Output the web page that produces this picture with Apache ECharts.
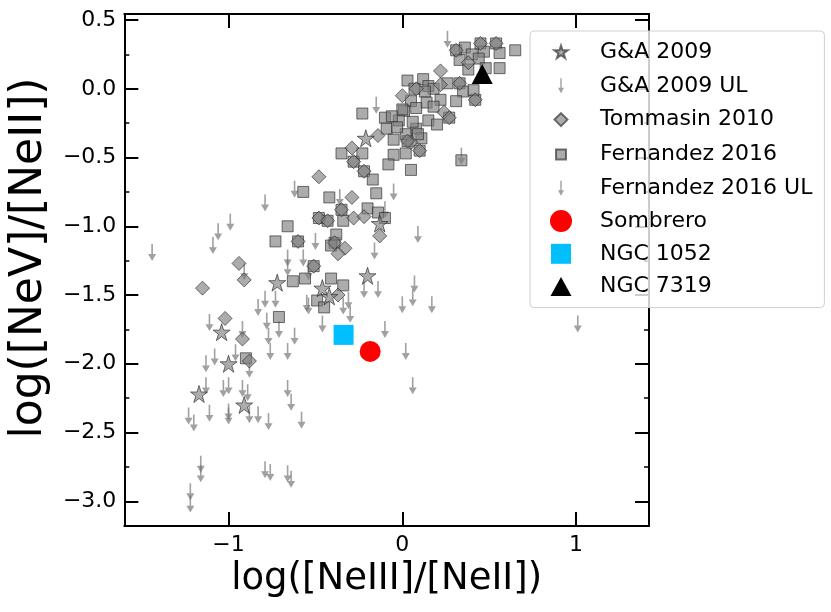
<!DOCTYPE html>
<html>
<head>
<meta charset="utf-8">
<script src="https://cdn.jsdelivr.net/npm/echarts@6/dist/echarts.min.js"></script>
<style>
  html, body { margin: 0; padding: 0; background: #fff; }
  #chart { width: 831px; height: 612px; }
</style>
</head>
<body>
<div id="chart"></div>
<script>
// x = log([NeIII]/[NeII]), y = log([NeV]/[NeII])
const gaStars = [
  [-0.21, -0.36], [-0.13, -0.98], [-0.20, -1.36], [-0.72, -1.41], [-0.46, -1.45],
  [-0.42, -1.51], [-1.04, -1.77], [-1.00, -2.00], [-1.17, -2.22], [-0.91, -2.30]
];
const gaUL = [
  [-1.44, -1.19], [-0.91, -1.33], [-1.11, -1.70], [-0.92, -1.75], [-1.08, -1.95],
  [-1.13, -2.00], [-1.00, -2.35], [-1.11, -2.36], [-0.88, -2.37], [-1.16, -2.80],
  [-1.22, -2.93], [-0.79, -2.77], [-0.66, -2.80], [-0.73, -1.53], [-0.66, -1.23],
  [-0.54, -1.33], [-0.31, -1.54], [0.06, -1.52], [-0.50, -1.11], [-0.36, -0.79],
  [-0.96, -1.92]
];
// Tommasin diamonds (the octagon-looking marks are diamond + square on the same galaxy)
const tommasin = [
  [0.22, 0.13], [0.38, 0.19], [0.08, 0.00], [0.22, 0.03], [0.00, -0.05],
  [0.24, -0.17], [0.05, -0.39], [-0.14, -0.34], [-0.29, -0.43], [-0.48, -0.64],
  [-0.29, -0.79], [-0.28, -0.94], [-0.22, -0.93], [-0.13, -1.07], [-0.33, -1.16],
  [-0.37, -1.20], [-0.94, -1.27], [-0.91, -1.39], [-1.15, -1.45], [-1.02, -1.67],
  [-0.37, -1.50], [-0.92, -1.82], [-0.88, -1.98],
  [0.31, 0.28], [0.45, 0.33], [0.54, 0.33], [0.33, 0.04], [0.42, -0.08],
  [0.27, -0.21], [0.03, -0.38], [0.10, -0.45], [-0.28, -0.53], [-0.22, -0.60],
  [-0.48, -0.94], [-0.43, -0.96], [-0.35, -0.88], [-0.60, -1.11], [-0.39, -1.12],
  [-0.51, -1.29]
];
const fernandez = [
  [0.31, 0.28], [0.45, 0.33], [0.54, 0.33], [0.33, 0.04], [0.42, -0.08],
  [0.27, -0.21], [0.03, -0.38], [0.10, -0.45], [-0.28, -0.53], [-0.22, -0.60],
  [-0.48, -0.94], [-0.43, -0.96], [-0.35, -0.88], [-0.60, -1.11], [-0.39, -1.12],
  [-0.51, -1.29],
  [0.36, 0.30], [0.47, 0.27], [0.56, 0.26], [0.65, 0.28], [0.40, 0.25],
  [0.33, 0.21], [0.44, 0.22], [0.38, 0.14], [0.48, 0.15], [0.56, 0.15],
  [0.03, 0.06], [0.12, 0.07], [0.07, 0.00], [0.15, 0.02], [0.18, 0.00],
  [0.26, 0.04], [0.35, -0.02], [0.41, -0.01], [0.31, -0.09], [0.22, -0.08],
  [0.13, -0.02], [0.14, -0.10], [0.05, -0.09], [0.01, -0.16], [0.08, -0.14],
  [0.18, -0.13], [0.15, -0.23], [0.20, -0.26], [0.08, -0.29], [0.02, -0.33],
  [0.06, -0.24], [-0.02, -0.23], [0.11, -0.36], [0.02, -0.47], [0.34, -0.52],
  [0.05, -0.59], [-0.23, -0.18], [-0.10, -0.21], [0.00, -0.15], [-0.06, -0.20],
  [-0.09, -0.29], [-0.03, -0.28], [-0.05, -0.37], [0.09, -0.33], [-0.05, -0.48],
  [-0.08, -0.55], [-0.35, -0.47], [-0.23, -0.47], [-0.17, -0.66], [-0.15, -0.76],
  [-0.57, -0.75], [-0.42, -0.79], [-0.20, -0.87], [-0.34, -0.96], [-0.14, -0.90],
  [-0.10, -0.94], [-0.66, -1.00], [-0.73, -1.11], [-0.38, -1.06], [-0.41, -1.14],
  [-0.63, -1.40], [-0.56, -1.38], [-0.41, -1.38], [-0.34, -1.43], [-0.49, -1.54],
  [-0.45, -1.59], [-0.71, -1.66], [-0.90, -1.96]
];
const fernandezUL = [
  [0.26, 0.36], [-0.15, -0.12], [-0.62, -0.73], [-0.05, -0.75], [-0.10, -0.88],
  [0.09, -1.06], [-0.79, -0.83], [-0.99, -0.97], [-1.06, -1.04], [-1.09, -1.14],
  [-0.57, -1.23], [-0.16, -1.18], [-0.66, -1.30], [-0.22, -1.46], [-0.14, -1.46],
  [0.07, -1.42], [-0.79, -1.53], [-0.55, -1.56], [0.00, -1.57], [0.17, -1.57],
  [-0.83, -1.59], [-0.54, -1.58], [-0.34, -1.58], [-0.30, -1.64], [-0.78, -1.69],
  [-0.46, -1.71], [-0.71, -1.75], [-0.10, -1.75], [-0.77, -1.80], [-0.62, -1.80],
  [-0.76, -1.91], [-0.66, -1.91], [0.02, -1.91], [1.01, -1.71], [-0.88, -2.04],
  [-1.13, -2.16], [-1.03, -2.18], [-1.00, -2.16], [-0.92, -2.18], [-0.89, -2.21],
  [-0.66, -2.18], [-0.64, -2.28], [0.06, -2.16], [-1.00, -2.38], [-0.83, -2.37],
  [-1.23, -2.38], [-1.20, -2.43], [-0.77, -2.42], [-0.58, -2.41], [-1.16, -2.73],
  [-0.76, -2.79], [-0.64, -2.84], [-1.22, -3.02], [0.34, -0.49]
];
const sombrero = [[-0.185, -1.91]];
const ngc1052 = [[-0.338, -1.79]];
const ngc7319 = [[0.46, 0.107]];

const xTicks = [-1, 0, 1];
const yTicks = [-3, -2.5, -2, -1.5, -1, -0.5, 0, 0.5];
const yMinorTicks = [-2.75, -2.25, -1.75, -1.25, -0.75, -0.25, 0.25];

function starPath(cx, cy, R) {
  let d = '';
  for (let i = 0; i < 10; i++) {
    const a = -Math.PI / 2 + i * Math.PI / 5;
    const r = i % 2 ? R * 0.382 : R;
    d += (i ? 'L' : 'M') + (cx + r * Math.cos(a)).toFixed(2) + ',' + (cy + r * Math.sin(a)).toFixed(2) + ' ';
  }
  return d + 'Z';
}
const STAR = 'path://' + starPath(10, 10, 10);
const ARROW = 'path://M4,0 L6,0 L6,12 L10,12 L5,20 L0,12 L4,12 Z';
// legend icons: padded into a 22x22 box so they keep their small size
const PAD = 'path://M0,0 M22,22 ';
const icons = {
  star: PAD + starPath(11, 11.5, 7),
  arrow: PAD + 'M10.3,3.5 L11.7,3.5 L11.7,13 L14,13 L11,18.5 L8,13 L10.3,13 Z',
  diamond: PAD + 'M11,4.5 L17.5,11 L11,17.5 L4.5,11 Z',
  square: PAD + 'M6,6 L16,6 L16,16 L6,16 Z',
  bigSquare: PAD + 'M1,1 L21,1 L21,21 L1,21 Z',
  triangle: PAD + 'M11,1.5 L21.5,20.5 L0.5,20.5 Z'
};

const minus = s => String(s).replace('-', '\u2212');
const FONT = 'DejaVu Sans';
const grayStyle = {color: '#808080', opacity: 0.65, borderColor: '#2a2a2a', borderWidth: 1};
const arrowStyle = {color: '#6e6e6e', opacity: 0.65};

const xBase = {
  type: 'value', min: -1.6, max: 1.42, splitLine: {show: false},
  axisLine: {show: true, onZero: false, lineStyle: {color: '#000', width: 2}},
  axisTick: {show: true, inside: true, length: 14, customValues: xTicks, lineStyle: {color: '#000', width: 2}}
};
const yBase = {
  type: 'value', min: -3.18, max: 0.544, splitLine: {show: false},
  axisLine: {show: true, onZero: false, lineStyle: {color: '#000', width: 2}},
  axisTick: {show: true, inside: true, length: 14, customValues: yTicks, lineStyle: {color: '#000', width: 2}}
};
const yMinor = {
  type: 'value', min: -3.18, max: 0.544, splitLine: {show: false},
  axisLine: {show: false, onZero: false}, axisLabel: {show: false},
  axisTick: {show: true, inside: true, length: 5, customValues: yMinorTicks, lineStyle: {color: '#000', width: 1.5}}
};

const chart = echarts.init(document.getElementById('chart'), null, {renderer: 'canvas'});
chart.setOption({
  animation: false,
  backgroundColor: '#fff',
  textStyle: {fontFamily: FONT},
  grid: {left: 122, right: 182, top: 14, bottom: 86, containLabel: false},
  xAxis: [
    Object.assign({}, xBase, {
      position: 'bottom',
      name: 'log([NeIII]/[NeII])', nameLocation: 'middle', nameGap: 33,
      nameTextStyle: {fontSize: 37, color: '#000', fontFamily: FONT},
      axisLabel: {customValues: xTicks, margin: 8, fontSize: 22, color: '#000', fontFamily: FONT, formatter: v => minus(v)}
    }),
    Object.assign({}, xBase, {position: 'top', axisLabel: {show: false}})
  ],
  yAxis: [
    Object.assign({}, yBase, {
      position: 'left',
      name: 'log([NeV]/[NeII])', nameLocation: 'middle', nameGap: 70,
      nameTextStyle: {fontSize: 44, color: '#000', fontFamily: FONT, padding: [0, 0, 0, 24]},
      axisLabel: {customValues: yTicks, margin: 8, fontSize: 22, color: '#000', fontFamily: FONT, formatter: v => minus(v.toFixed(1))}
    }),
    Object.assign({}, yBase, {position: 'right', axisLabel: {show: false}}),
    Object.assign({}, yMinor, {position: 'left'}),
    Object.assign({}, yMinor, {position: 'right'})
  ],
  legend: {
    orient: 'vertical', left: 530, top: 31,
    padding: [9, 12, 10, 19],
    itemWidth: 22, itemHeight: 22, itemGap: 10.8,
    backgroundColor: 'rgba(255,255,255,0.8)',
    borderColor: '#d0d0d0', borderWidth: 1, borderRadius: 4,
    textStyle: {fontSize: 22, color: '#000', fontFamily: FONT, padding: [0, 0, 0, 23]},
    data: [
      {name: 'G&A 2009', icon: icons.star},
      {name: 'G&A 2009 UL', icon: icons.arrow},
      {name: 'Tommasin 2010', icon: icons.diamond},
      {name: 'Fernandez 2016', icon: icons.square},
      {name: 'Fernandez 2016 UL', icon: icons.arrow},
      {name: 'Sombrero', icon: 'circle'},
      {name: 'NGC 1052', icon: icons.bigSquare},
      {name: 'NGC 7319', icon: icons.triangle}
    ]
  },
  series: [
    {name: 'Fernandez 2016 UL', type: 'scatter', symbol: ARROW, symbolSize: [8, 17], data: fernandezUL, itemStyle: arrowStyle, z: 2},
    {name: 'G&A 2009 UL', type: 'scatter', symbol: ARROW, symbolSize: [8, 17], data: gaUL, itemStyle: arrowStyle, z: 2},
    {name: 'Fernandez 2016', type: 'scatter', symbol: 'rect', symbolSize: 11, data: fernandez, itemStyle: grayStyle, z: 3},
    {name: 'Tommasin 2010', type: 'scatter', symbol: 'diamond', symbolSize: 14, data: tommasin, itemStyle: grayStyle, z: 3},
    {name: 'G&A 2009', type: 'scatter', symbol: STAR, symbolSize: 17, data: gaStars, itemStyle: grayStyle, z: 3},
    {name: 'Sombrero', type: 'scatter', symbol: 'circle', symbolSize: 21, data: sombrero, itemStyle: {color: '#ff0000', opacity: 1}, z: 5},
    {name: 'NGC 1052', type: 'scatter', symbol: 'rect', symbolSize: 20, data: ngc1052, itemStyle: {color: '#00bfff', opacity: 1}, z: 5},
    {name: 'NGC 7319', type: 'scatter', symbol: 'triangle', symbolSize: [21, 20], data: ngc7319, itemStyle: {color: '#000000', opacity: 1}, z: 5}
  ]
});
</script>
</body>
</html>
